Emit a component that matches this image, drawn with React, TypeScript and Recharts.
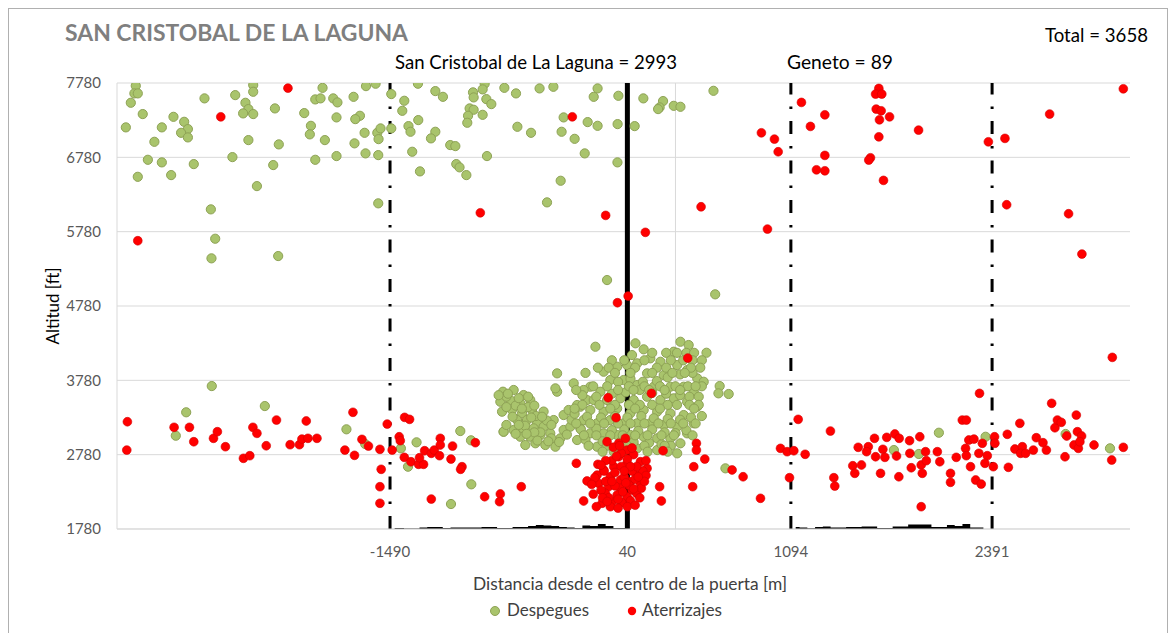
import React from 'react';
import { ComposedChart, Scatter, Area, XAxis, YAxis, CartesianGrid, ReferenceLine } from 'recharts';

// axis ticks
const xTicks = [-1490, 40, 1094, 2391];
const yTicks = [1780, 2780, 3780, 4780, 5780, 6780, 7780];

// Despegues [distance m, altitude ft]
const despegues: [number, number][] = [
  [-3129, 7742], [-3138, 7640], [-3116, 7640], [-3161, 7514], [-3084, 7362], [-3193, 7183], [-2961, 7183],
  [-2886, 7325], [-2817, 7258], [-2793, 7160], [-2837, 7110], [-2793, 7048], [-3009, 6989], [-3051, 6747],
  [-2961, 6712], [-3116, 6518], [-2901, 6541], [-2755, 6689], [-2686, 7573], [-2488, 7617], [-2422, 7514],
  [-2372, 7752], [-2372, 7662], [-2403, 7429], [-2437, 7371], [-2372, 7362], [-2403, 7012], [-2506, 6783],
  [-2232, 7438], [-2207, 6954], [-2243, 6676], [-2348, 6393], [-2645, 6080], [-2617, 5685], [-2641, 5421],
  [-2211, 5452], [-2043, 7375], [-2000, 7204], [-2007, 7089], [-1910, 7012], [-1972, 6747], [-1972, 7559],
  [-1938, 7573], [-1925, 7715], [-1856, 7573], [-1829, 7519], [-1835, 7317], [-1835, 6797], [-1725, 7594],
  [-1645, 7738], [-1583, 7770], [-1684, 7339], [-1714, 7294], [-1654, 7110], [-1572, 7110], [-1551, 7169],
  [-1564, 7025], [-1719, 6968], [-1648, 6833], [-1566, 6810], [-1566, 6161], [-1482, 7631], [-1482, 7169],
  [-1398, 7541], [-1411, 7406], [-1371, 7200], [-1358, 7124], [-1308, 7281], [-1310, 7770], [-1347, 6855],
  [-1297, 6591], [-1198, 7671], [-1149, 7594], [-880, 7770], [-893, 7694], [-955, 7654], [-951, 7586],
  [-869, 7563], [-837, 7496], [-977, 7438], [-951, 7420], [-987, 7339], [-893, 7352], [-992, 7245],
  [-1198, 7124], [-1226, 7035], [-1102, 6945], [-1069, 6931], [-865, 6797], [-1063, 6689], [-1042, 6645],
  [-998, 6541], [-753, 7715], [-678, 7640], [-526, 7707], [-437, 7729], [-669, 7191], [-581, 7110],
  [-384, 7124], [-371, 7317], [-300, 7029], [-235, 6833], [-390, 6465], [-478, 6174], [-216, 7254],
  [-152, 7204], [-152, 7707], [-177, 7594], [-23, 7227], [-18, 7608], [-24, 6712], [-91, 5129], [87, 7200],
  [143, 7573], [270, 7537], [248, 7452], [238, 7429], [339, 7473], [382, 7460], [595, 7675], [606, 4937],
  [550, 4151], [635, 3703], [693, 3596], [627, 3605], [2048, 3075], [2349, 3021], [2865, 3058], [3151, 2865],
  [672, 2596], [1758, 2842], [1919, 2789],
  [-2639, 3703], [-2804, 3350], [-2871, 3035], [-2297, 3434], [-1771, 3121], [-1650, 2923], [-1420, 2865],
  [-1374, 2618], [-1319, 2946], [-1037, 3098], [-968, 2973], [-966, 2381], [-1097, 2116], [-758, 3089],
  // left lobe of the cluster
  [-762, 3627], [-693, 3650], [-629, 3582], [-779, 3492], [-715, 3515], [-650, 3471], [-586, 3515],
  [-768, 3358], [-704, 3381], [-639, 3336], [-575, 3381], [-671, 3246], [-607, 3246], [-542, 3202],
  [-693, 3112], [-629, 3112], [-564, 3134], [-500, 3156], [-758, 3089], [-650, 3021], [-586, 3021],
  [-521, 3044], [-457, 3067], [-618, 2910], [-553, 2933], [-489, 2910], [-424, 2887], [-392, 3000],
  [-371, 3112], [-435, 3246], [-371, 3313], [-339, 3381], [-413, 3627], [-424, 3672], [-413, 3874],
  [-306, 3740], [-328, 3156], [-263, 3134], [-263, 3425], [-220, 3515],
  [-740, 3560], [-680, 3440], [-600, 3420], [-550, 3300], [-700, 3290], [-620, 3170], [-480, 3240],
  [-520, 3080], [-450, 3000],
  [-790, 3580], [-730, 3600], [-660, 3540], [-600, 3560], [-740, 3420], [-640, 3400], [-560, 3440],
  [-500, 3360], [-740, 3180], [-660, 3180], [-580, 3280], [-510, 3290], [-450, 3180], [-560, 3080],
  [-680, 3060], [-610, 3060], [-540, 2970], [-470, 2960], [-400, 2950], [-350, 3050], [-320, 3250],
  [-300, 3330],
  // main cluster
  [-166, 4232], [92, 4278], [145, 4197], [70, 4120], [-26, 3963], [-113, 3896], [-70, 3784], [38, 3986],
  [103, 4009], [188, 4076], [253, 4030], [339, 4165], [382, 4299], [435, 4255], [361, 3986], [425, 3918],
  [490, 3807], [532, 3761], [167, 3874], [274, 3851], [16, 3784], [103, 3717], [210, 3694], [317, 3694],
  [403, 3694], [468, 3627], [-199, 3694], [-134, 3627], [-242, 3650], [-284, 3448], [-177, 3515],
  [-91, 3515], [-5, 3538], [81, 3515], [167, 3559], [253, 3515], [339, 3538], [425, 3492], [490, 3425],
  [-199, 3381], [-113, 3358], [-26, 3403], [59, 3336], [145, 3381], [232, 3358], [317, 3336], [403, 3313],
  [468, 3202], [-242, 3246], [-155, 3202], [-70, 3246], [16, 3202], [103, 3202], [188, 3202], [274, 3179],
  [361, 3156], [425, 3067], [-199, 3067], [-113, 3067], [-26, 3044], [59, 3044], [145, 3021], [232, 3000],
  [317, 3000], [382, 2933], [-284, 2977], [-155, 2887], [-48, 2820], [103, 2865], [232, 2842], [361, 2798],
  [-250, 3580], [-160, 3560], [-60, 3600], [30, 3620], [120, 3650], [200, 3610], [290, 3600], [380, 3580],
  [440, 3560], [-220, 3290], [-130, 3280], [-40, 3300], [40, 3280], [130, 3300], [210, 3270], [300, 3260],
  [380, 3250], [450, 3280], [-260, 3120], [-160, 3130], [-60, 3110], [20, 3120], [110, 3100], [200, 3120],
  [280, 3080], [350, 3070], [420, 3110], [-230, 2980], [-120, 2960], [0, 2960], [80, 2950], [180, 2940],
  [260, 2920], [320, 2900], [-20, 3760], [60, 3800], [140, 3760], [230, 3770], [300, 3820], [380, 3860],
  [460, 3880], [520, 3700], [500, 3560], [520, 3300],
  [200, 4150], [290, 4150], [360, 4150], [420, 4150], [470, 4150],
  [-60, 4050], [20, 4050], [150, 4050], [320, 4050], [400, 4050], [460, 4050], [520, 4050],
  [-150, 3950], [-80, 3950], [90, 3950], [230, 3950], [290, 3950], [450, 3950], [510, 3950],
  [-230, 3880], [-40, 3880], [60, 3880], [200, 3880], [330, 3880], [410, 3880],
  [-180, 3700], [-90, 3700], [50, 3700], [150, 3700], [250, 3700], [350, 3700], [430, 3700], [480, 3700],
  [-290, 3650], [-20, 3650], [80, 3650], [180, 3650], [280, 3650], [380, 3650],
  [-250, 3450], [-140, 3450], [-40, 3450], [50, 3450], [120, 3450], [200, 3450], [300, 3450], [360, 3450],
  [440, 3450], [500, 3450], [-300, 3400], [-70, 3400], [90, 3400], [250, 3400], [470, 3400],
  [-290, 3200], [-200, 3200], [-110, 3200], [-20, 3200], [60, 3200], [150, 3200], [240, 3200], [320, 3200],
  [400, 3200], [480, 3200], [-240, 3040], [-160, 3040], [-70, 3040], [10, 3040], [90, 3040], [170, 3040],
  [260, 3040], [340, 3040], [460, 3040], [-210, 2900], [-90, 2900], [40, 2900], [150, 2900], [280, 2900],
  [-120, 2820], [10, 2820], [170, 2820], [300, 2820],
];

// Aterrizajes [distance m, altitude ft]
const aterrizajes: [number, number][] = [
  [-2148, 7711], [-2581, 7325], [-3116, 5658], [-315, 7325], [-908, 6034], [-100, 5999], [156, 5771],
  [45, 4914], [-24, 4824], [515, 6115], [904, 7110], [988, 7025], [1012, 6855], [943, 5815], [1162, 7519],
  [1220, 7196], [1259, 6612], [1313, 7352], [1313, 6806], [1313, 6599], [1661, 7707], [1640, 7631],
  [1680, 7631], [1644, 7429], [1676, 7406], [1730, 7325], [1665, 7285], [1661, 7056], [1607, 6774],
  [1596, 6743], [1691, 6470], [1917, 7146], [2367, 6989], [2474, 7035], [2762, 7362], [3237, 7702],
  [2485, 6142], [2884, 6021], [2970, 5479], [3166, 4089], [429, 4080], [195, 3605],
  // right side, low
  [270, 2833], [485, 2933], [485, 2842], [539, 2721], [468, 2618], [461, 2349], [248, 2349], [259, 2157],
  [715, 2574], [786, 2483], [898, 2193], [1027, 2865], [1070, 2820], [1113, 2833], [1085, 2470],
  [1141, 3255], [1186, 2785], [1349, 3098], [1371, 2470], [1377, 2358], [1493, 2631], [1506, 2529],
  [1528, 2879], [1549, 2641], [1593, 2887], [1582, 2820], [1633, 3000], [1640, 2752], [1672, 2529],
  [1687, 2852], [1700, 2744], [1712, 3013], [1764, 3058], [1792, 3000], [1775, 2762], [1790, 2483],
  [1859, 2968], [1861, 2798], [1870, 2604], [1925, 3021], [1934, 2641], [1941, 2529], [1962, 2820],
  [1967, 2699], [1934, 2080], [2038, 2820], [2054, 2685], [2123, 2529], [2123, 2408], [2160, 2744],
  [2199, 3246], [2225, 3246], [2220, 2865], [2225, 2766], [2252, 2618], [2241, 2977], [2274, 2990],
  [2285, 2439], [2321, 2385], [2306, 2798], [2328, 2933], [2310, 3605], [2360, 2766], [2345, 2664],
  [2399, 2618], [2407, 3021], [2409, 2933], [2489, 3054], [2496, 2610], [2538, 2856], [2570, 3202],
  [2586, 2887], [2575, 2798], [2607, 2798], [2657, 2842], [2676, 3008], [2719, 2941], [2741, 2842],
  [2775, 3471], [2796, 3142], [2812, 3246], [2837, 3215], [2861, 2752], [2872, 3031], [2919, 2910],
  [2934, 3313], [2941, 3089], [2947, 2865], [2968, 3031], [2957, 2954], [3048, 2910], [3162, 2708],
  [3237, 2879],
  // left side, low
  [-3183, 3223], [-3187, 2842], [-2882, 3148], [-2783, 3148], [-2755, 2954], [-2628, 3000], [-2603, 3089],
  [-2551, 2887], [-2435, 2731], [-2394, 2766], [-2374, 3148], [-2348, 3067], [-2288, 2900], [-2222, 3246],
  [-2134, 2914], [-2074, 2914], [-2058, 2990], [-2019, 3000], [-1961, 3000], [-2030, 3233], [-1729, 3350],
  [-1781, 2842], [-1719, 2771], [-1671, 2986], [-1629, 2896], [-1555, 2852], [-1508, 3192], [-1476, 2842],
  [-1547, 2583], [-1555, 2349], [-1555, 2126], [-1396, 3282], [-1364, 3255], [-1431, 3021], [-1424, 2968],
  [-1398, 2744], [-1355, 2685], [-1306, 2650], [-1274, 2650], [-1300, 2739], [-1267, 2833], [-1224, 2798],
  [-1205, 2842], [-1166, 3000], [-1166, 2910], [-1171, 2766], [-1087, 2896], [-1097, 2721], [-1026, 2618],
  [-1035, 2583], [-940, 2941], [-1224, 2183], [-880, 2214], [-779, 2251], [-784, 2147], [-644, 2349],
  [-289, 2664], [-220, 2426], [-242, 2157],
  // cluster under the gate
  [-84, 3546], [-33, 3277], [-91, 2954], [27, 3000], [-16, 2933], [38, 2842], [-16, 2752], [124, 2685],
  [167, 2596], [103, 2506], [38, 2664], [-48, 2618], [-113, 2574], [-155, 2506], [-70, 2483], [-5, 2439],
  [59, 2416], [124, 2395], [-145, 2395], [-81, 2349], [-5, 2327], [70, 2305], [-102, 2260], [-26, 2237],
  [38, 2214], [-59, 2147], [5, 2134], [-123, 2126], [-160, 2080], [-60, 2700], [0, 2620], [70, 2560],
  [-100, 2420], [20, 2480], [90, 2450], [-40, 2360], [50, 2370], [-130, 2300], [100, 2260], [-20, 2180],
  [60, 2160], [0, 2800], [-50, 2880], [80, 2780], [140, 2560], [-80, 2200], [-170, 2470], [10, 2280],
  [130, 2330],
  [-150, 2650], [-100, 2700], [-30, 2760], [40, 2720], [100, 2620], [160, 2500], [-190, 2380], [-120, 2200],
  [-60, 2420], [30, 2400], [80, 2320], [120, 2200], [-40, 2540], [60, 2620], [-110, 2560], [150, 2420],
  [-180, 2250], [-70, 2080], [40, 2080], [20, 2560], [-20, 2060], [110, 2480], [-130, 2640], [70, 2870],
  [-10, 2900], [160, 2700], [90, 2100], [-90, 2150],
];

// small bars along the bottom (bin edges in m, heights in ft above 1780)
const histLeftEdges = [
  -1460, -1400, -1350, -1300, -1250, -1200, -1150, -1100, -1050, -1000, -950, -900, -850, -800, -750,
  -700, -650, -600, -550, -500, -450, -400, -350, -300, -250, -200, -150, -100, -50, 0, 25,
];
const histLeftH = [
  13, 7, 7, 20, 27, 27, 13, 20, 20, 20, 20, 27, 27, 13, 13, 27, 27, 40, 54, 47, 40, 27, 20, 13, 47, 40, 67,
  40, 13, 13,
];
const histRightEdges = [
  1125, 1150, 1200, 1250, 1300, 1350, 1400, 1450, 1500, 1550, 1600, 1650, 1700, 1750, 1800, 1850, 1900,
  1950, 2000, 2050, 2100, 2150, 2200, 2250, 2300, 2335,
];
const histRightH = [27, 20, 10, 27, 34, 20, 20, 27, 27, 34, 34, 13, 13, 34, 34, 60, 60, 60, 27, 27, 54, 40, 67, 20, 20];

const toPoints = (list: [number, number][]) => list.map(([x, y]) => ({ x, y }));
const toSteps = (edges: number[], h: number[]) => {
  const pts = h.map((v, i) => ({ x: edges[i], y: 1780 + v }));
  pts.push({ x: edges[edges.length - 1], y: 1780 + h[h.length - 1] });
  return pts;
};

const GREEN = '#a9c46c';
const GREEN_EDGE = '#8ea255';
const RED = '#ff0000';

const GreenDot = (props: any) => (
  <circle cx={props.cx} cy={props.cy} r={4.6} fill={GREEN} stroke={GREEN_EDGE} strokeWidth={1} />
);
const RedDot = (props: any) => (
  <circle cx={props.cx} cy={props.cy} r={4.4} fill={RED} stroke="#d40000" strokeWidth={0.6} />
);

const FONT = 'Lato, "Open Sans", sans-serif';

export default function App() {
  const greenData = toPoints(despegues);
  const redData = toPoints(aterrizajes);
  const histLeft = toSteps(histLeftEdges, histLeftH);
  const histRight = toSteps(histRightEdges, histRightH);

  return (
    <div style={{ position: 'fixed', left: 0, top: 0, width: 1171, height: 633, background: '#fff', overflow: 'hidden' }}>
      <div
        style={{
          position: 'absolute', left: 8, top: 8, width: 1160, height: 640,
          border: '1px solid #b0b0b0', boxSizing: 'border-box',
        }}
      />
      <div style={{ position: 'absolute', left: 0, top: 0 }}>
        <ComposedChart width={1160} height={620} margin={{ top: 83, right: 30, bottom: 61, left: 57 }}>
          <CartesianGrid vertical={false} stroke="#d9d9d9" />
          <XAxis
            type="number"
            dataKey="x"
            domain={[-3250, 3280]}
            ticks={xTicks}
            allowDataOverflow
            tickLine={false}
            axisLine={{ stroke: '#d9d9d9' }}
            tickMargin={11}
            height={30}
            tick={{ fill: '#595959', fontSize: 15, fontFamily: FONT }}
          />
          <YAxis
            type="number"
            dataKey="y"
            domain={[1780, 7780]}
            ticks={yTicks}
            allowDataOverflow
            tickLine={false}
            axisLine={{ stroke: '#d9d9d9' }}
            tickMargin={10}
            width={60}
            tick={{ fill: '#595959', fontSize: 15, fontFamily: FONT }}
          />
          <ReferenceLine x={350} stroke="#d9d9d9" strokeWidth={1} />
          <Scatter data={greenData} dataKey="y" shape={GreenDot} isAnimationActive={false} />
          <Scatter data={redData} dataKey="y" shape={RedDot} isAnimationActive={false} />
          <Area data={histLeft} dataKey="y" type="stepAfter" stroke="none" fill="#000" fillOpacity={1} dot={false} activeDot={false} isAnimationActive={false} />
          <Area data={histRight} dataKey="y" type="stepAfter" stroke="none" fill="#000" fillOpacity={1} dot={false} activeDot={false} isAnimationActive={false} />
          <ReferenceLine x={-1490} stroke="#000" strokeWidth={3} strokeDasharray="13 12 2.5 12" />
          <ReferenceLine x={1094} stroke="#000" strokeWidth={3} strokeDasharray="13 12 2.5 12" />
          <ReferenceLine x={2391} stroke="#000" strokeWidth={3} strokeDasharray="13 12 2.5 12" />
          <ReferenceLine x={40} stroke="#000" strokeWidth={5} />
        </ComposedChart>
      </div>
      <svg width={1171} height={633} style={{ position: 'absolute', left: 0, top: 0, pointerEvents: 'none' }} fontFamily={FONT}>
        <text x={65} y={41} fontSize={23} fontWeight="bold" fill="#7f7f7f" textLength={343} lengthAdjust="spacingAndGlyphs">
          SAN CRISTOBAL DE LA LAGUNA
        </text>
        <text x={1045} y={42} fontSize={19} fill="#000" textLength={103} lengthAdjust="spacingAndGlyphs">
          Total = 3658
        </text>
        <text x={395} y={69} fontSize={20} fill="#000" textLength={282} lengthAdjust="spacingAndGlyphs">
          San Cristobal de La Laguna = 2993
        </text>
        <text x={787} y={69} fontSize={20} fill="#000" textLength={106} lengthAdjust="spacingAndGlyphs">
          Geneto = 89
        </text>
        <text
          x={52} y={306} fontSize={18} fill="#000" textAnchor="middle" dominantBaseline="central"
          transform="rotate(-90 52 306)" textLength={77} lengthAdjust="spacingAndGlyphs"
        >
          Altitud [ft]
        </text>
        <text x={473} y={590} fontSize={18} fill="#404040" textLength={314} lengthAdjust="spacingAndGlyphs">
          Distancia desde el centro de la puerta [m]
        </text>
        <circle cx={495} cy={611} r={4.5} fill={GREEN} stroke={GREEN_EDGE} strokeWidth={1} />
        <text x={507} y={616} fontSize={18} fill="#404040" textLength={82} lengthAdjust="spacingAndGlyphs">
          Despegues
        </text>
        <circle cx={632} cy={611} r={4.2} fill={RED} />
        <text x={642} y={616} fontSize={18} fill="#404040" textLength={80} lengthAdjust="spacingAndGlyphs">
          Aterrizajes
        </text>
      </svg>
    </div>
  );
}
